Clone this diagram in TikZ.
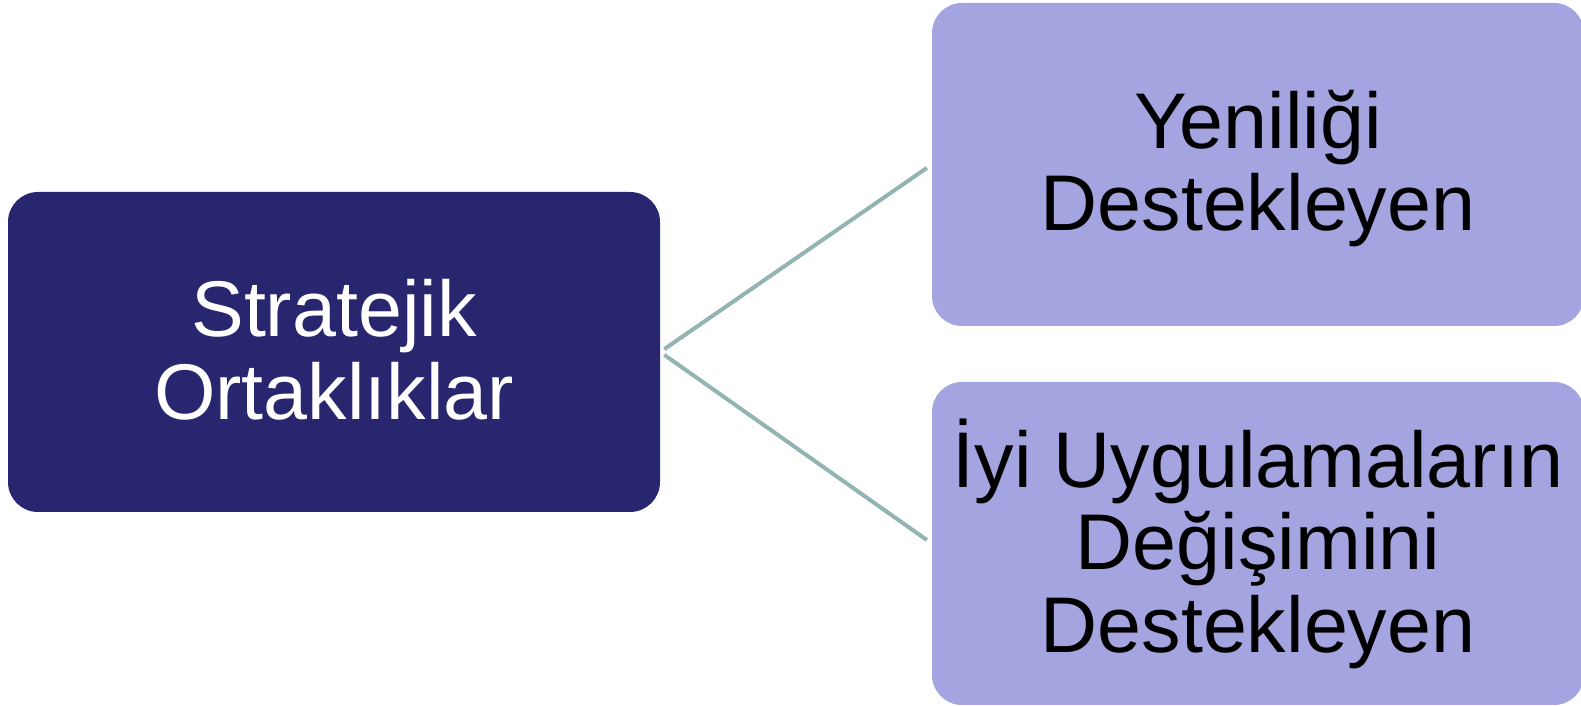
\documentclass[tikz,border=0pt]{standalone}
\usepackage{fontspec}
\setmainfont{Liberation Sans}
\definecolor{navy}{RGB}{40,38,111}
\definecolor{lilac}{RGB}{164,164,224}
\definecolor{conn}{RGB}{148,180,180}
\newcommand\boxline[1]{\hbox to 640pt{\hss\vrule height 66pt depth 14pt width 0pt\relax #1\hss}}
\newcommand\boxtext[1]{\vbox{\offinterlineskip #1}}
\tikzset{
  hub/.style={rectangle, rounded corners=30pt, fill=navy, text=white,
    minimum width=652pt, minimum height=320pt, inner sep=0pt,
    font=\fontsize{79}{80}\selectfont},
  leaf/.style={rectangle, rounded corners=30pt, fill=lilac, text=black,
    minimum width=652pt, minimum height=323pt, inner sep=0pt,
    font=\fontsize{79}{80}\selectfont},
  link/.style={draw=conn, line width=4pt, shorten <=5pt, shorten >=6pt}
}
\begin{document}
\begin{tikzpicture}[x=1pt,y=1pt]
\useasboundingbox (0,0) rectangle (1581,706);
\node[hub] (hub) at (334,354) {\boxtext{\boxline{Stratejik}\boxline{Ortaklıklar}}};
\node[leaf] (top) at (1258,541.5) {\boxtext{\boxline{Yeniliği}\boxline{Destekleyen}}};
\node[leaf] (bot) at (1258,162.5) {\boxtext{\boxline{İyi Uygulamaların}\boxline{Değişimini}\boxline{Destekleyen}}};
\draw[link] (hub.east) -- (top.west);
\draw[link] (hub.east) -- (bot.west);
\end{tikzpicture}
\end{document}
